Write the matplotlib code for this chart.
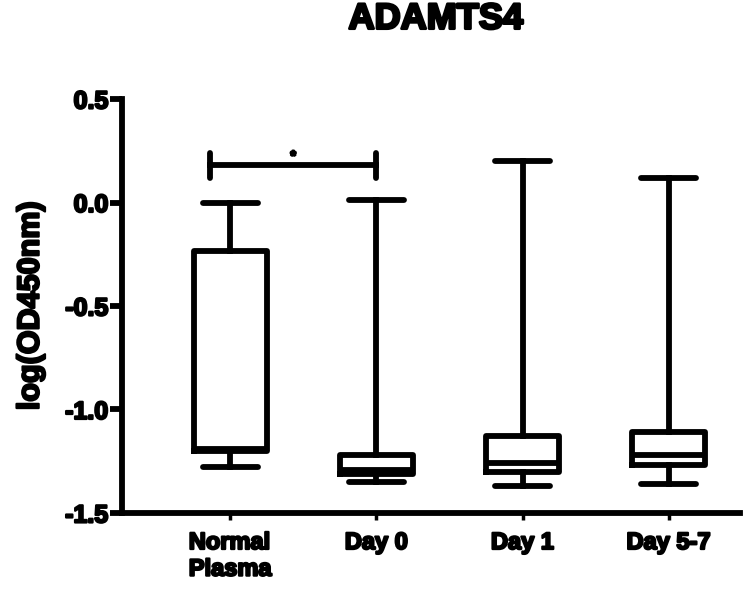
import matplotlib
matplotlib.use('Agg')
import matplotlib.pyplot as plt
import matplotlib.patheffects as pe

plt.rcParams['font.family'] = ['Liberation Sans', 'DejaVu Sans']
plt.rcParams['font.weight'] = 'bold'

# box plot values (min/max whiskers)
groups = ['Normal\nPlasma', 'Day 0', 'Day 1', 'Day 5-7']
whis_low = [-1.28, -1.35, -1.37, -1.36]
q1 = [-1.20, -1.31, -1.30, -1.27]
medians = [-1.19, -1.29, -1.26, -1.22]
q3 = [-0.235, -1.22, -1.13, -1.11]
whis_high = [0.0, 0.01, 0.2, 0.12]

sig_y = 0.18
sig_x = [0.86, 2.0]

stats = []
for i in range(len(groups)):
    stats.append({'label': groups[i], 'whislo': whis_low[i], 'q1': q1[i],
                  'med': medians[i], 'q3': q3[i], 'whishi': whis_high[i]})

# heavier look for the text (the original uses a black-weight font)
heavy = [pe.withStroke(linewidth=1.6, foreground='black')]

fig = plt.figure(figsize=(7.5, 5.99), dpi=100)
ax = fig.add_axes([0.163, 0.1436, 0.824, 0.6911])

lw = 4.2
ax.bxp(stats, positions=[1, 2, 3, 4], widths=0.5, capwidths=0.38,
       showfliers=False,
       boxprops=dict(color='black', linewidth=lw),
       whiskerprops=dict(color='black', linewidth=lw),
       capprops=dict(color='black', linewidth=lw, solid_capstyle='round'),
       medianprops=dict(color='black', linewidth=lw))

# significance bracket
ax.plot(sig_x, [sig_y, sig_y], color='black', linewidth=lw)
for x in sig_x:
    ax.plot([x, x], [sig_y - 0.06, sig_y + 0.06], color='black', linewidth=lw,
            solid_capstyle='round')
ax.text(sum(sig_x) / 2, sig_y + 0.01, '*', ha='center', va='bottom',
        fontsize=10, fontweight='bold', path_effects=heavy)

ax.set_xlim(0.26, 4.49)
ax.set_ylim(-1.5, 0.5)
ax.set_yticks([-1.5, -1.0, -0.5, 0.0, 0.5])
ax.set_yticklabels(['-1.5', '-1.0', '-0.5', '0.0', '0.5'])
ax.set_xticks([1, 2, 3, 4])
ax.set_xticklabels(groups)

for side in ['top', 'right']:
    ax.spines[side].set_visible(False)
for side in ['left', 'bottom']:
    ax.spines[side].set_linewidth(lw)
ax.tick_params(axis='y', length=9, width=lw, labelsize=18, pad=1)
ax.tick_params(axis='x', length=5, width=2.5, labelsize=17, pad=8)
for lab in ax.get_xticklabels() + ax.get_yticklabels():
    lab.set_path_effects(heavy)
for lab in ax.get_xticklabels():
    lab.set_horizontalalignment('center')
    lab.set_multialignment('left')

ax.set_ylabel('log(OD450nm)', fontsize=22, fontweight='bold', labelpad=14,
              path_effects=heavy)
fig.text(0.581, 0.968, 'ADAMTS4', ha='center', va='center', fontsize=26,
         fontweight='bold', path_effects=[pe.withStroke(linewidth=2, foreground='black')])

fig.savefig('out.png', dpi=100)
